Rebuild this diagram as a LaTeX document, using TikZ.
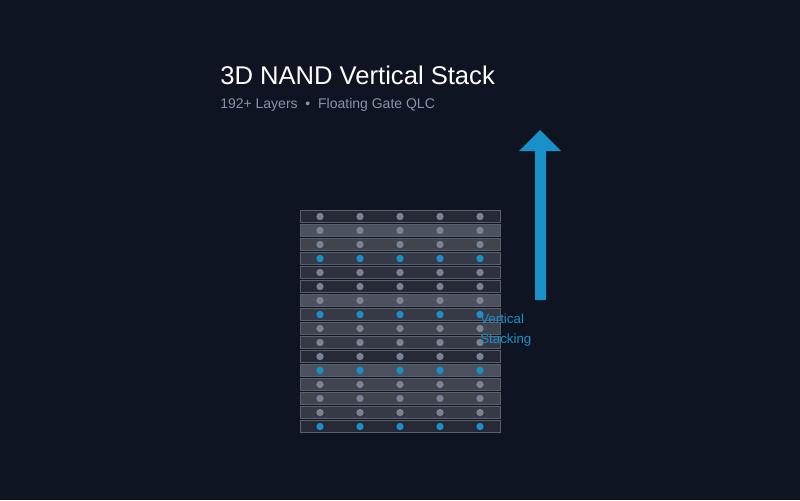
\documentclass[tikz,border=0pt]{standalone}
\usepackage{fontspec}
\setmainfont{Liberation Sans}
\definecolor{bgcol}{HTML}{0F1422}
\definecolor{accent}{HTML}{1A90C8}
\definecolor{subcol}{HTML}{8A93A6}
\definecolor{dotcol}{HTML}{7C8294}
\definecolor{edgecol}{HTML}{5A5F6C}
\definecolor{shA}{HTML}{262A37}
\definecolor{shB}{HTML}{4C5160}
\definecolor{shC}{HTML}{40444F}
\definecolor{shD}{HTML}{363A47}
\definecolor{shE}{HTML}{2E323F}
\tikzset{
  layer/.style={draw=edgecol, line width=0.75pt},
  cell/.style={circle, inner sep=0pt, minimum size=5.5pt},
}
\begin{document}
\begin{tikzpicture}[x=0.75pt, y=-0.75pt]
    % Background
    \fill[bgcol] (0,0) rectangle (800,500);
    \useasboundingbox (0,0) rectangle (800,500);

    % Title
    \node[anchor=base west, inner sep=0pt, white, font=\fontsize{19.2}{22}\selectfont] (title) at (220,84) {3D NAND Vertical Stack};
    \node[anchor=base west, inner sep=0pt, subcol, font=\fontsize{10.5}{12}\selectfont] (sub) at (220,108) {192+ Layers \ \textbullet\ \ Floating Gate QLC};

    % Layers
    \foreach \i/\sh in {1/shA,2/shB,3/shC,4/shD,5/shE,6/shA,7/shB,8/shD,9/shC,10/shD,11/shA,12/shB,13/shC,14/shC,15/shD,16/shA} {
      \pgfmathsetmacro{\top}{210+14*(\i-1)}
      \draw[layer, fill=\sh] (300,\top+0.5) rectangle (500,\top+12.5);
      \pgfmathtruncatemacro{\isblue}{mod(\i,4)==0 ? 1 : 0}
      \foreach \x in {320,360,400,440,480} {
        \ifnum\isblue=1
          \node[cell, fill=accent] (c\i-\x) at (\x,\top+6.5) {};
        \else
          \node[cell, fill=dotcol] (c\i-\x) at (\x,\top+6.5) {};
        \fi
      }
    }

    % Arrow
    \fill[accent] (535,300) -- (535,151) -- (519,151) -- (540,130) -- (561,151) -- (546,151) -- (546,300) -- cycle;
    \node[anchor=base west, inner sep=0pt, accent, align=left, font=\fontsize{10}{15}\selectfont] (lbl) at (480,343) {Vertical\\Stacking};

\end{tikzpicture}
\end{document}
